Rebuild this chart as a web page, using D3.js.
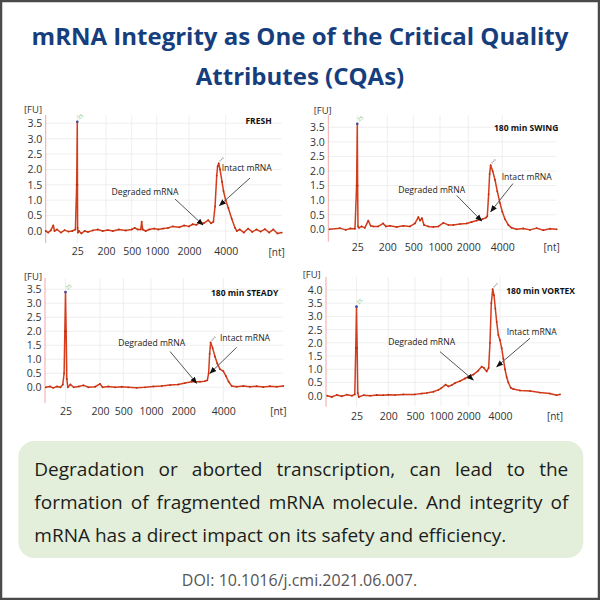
<!DOCTYPE html>
<html><head><meta charset="utf-8">
<script src="https://cdn.jsdelivr.net/npm/d3@7"></script>
<style>html,body{margin:0;padding:0;background:#fff}svg{display:block}</style>
</head><body><svg id="c" width="600" height="600"></svg>
<script>
// ---------- data ----------
const titleLines = ["mRNA Integrity as One of the Critical Quality", "Attributes (CQAs)"];
const panelTitles = ["FRESH", "180 min SWING", "180 min STEADY", "180 min VORTEX"];
const xTickValues = [25, 200, 500, 1000, 2000, 4000];
const xDomain = [0, 25, 200, 500, 1000, 2000, 4000, 8000];
const yTicksA = [0, 0.5, 1, 1.5, 2, 2.5, 3, 3.5];
const yTicksB = [0, 0.5, 1, 1.5, 2, 2.5, 3, 3.5, 4];
const annotationLabels = ["Degraded mRNA", "Intact mRNA"];
const bodyLines = ["Degradation or aborted transcription, can lead to the",
  "formation of fragmented mRNA molecule. And integrity of",
  "mRNA has a direct impact on its safety and efficiency."];
const doiText = "DOI: 10.1016/j.cmi.2021.06.007.";

// [nt, FU]
const fresh = [[0,0],[2,-0.05],[4,0.02],[6,0.18],[7,0],[9,0.05],[12,-0.05],[15,0.03],[18,-0.02],[21,0],[23.5,0.05],[24.5,1.5],[25,3.55],[26,1.5],[27,0.1],[29,-0.05],[35,0],[50,-0.08],[70,0],[90,-0.03],[120,0.02],[150,0.05],[180,0],[220,0.03],[280,0],[350,0.05],[430,0.02],[500,0.05],[560,0.1],[620,0.05],[680,0.05],[700,0.3],[720,0.05],[780,0],[850,0.05],[950,0.08],[1050,0.05],[1200,0.08],[1350,0.1],[1500,0.15],[1700,0.12],[1850,0.18],[2000,0.15],[2200,0.22],[2400,0.2],[2600,0.28],[2800,0.25],[3050,0.35],[3200,0.25],[3330,0.3],[3420,0.8],[3510,1.8],[3560,2.1],[3620,2.2],[3690,2.0],[3800,1.6],[3880,1.3],[4000,1.0],[4190,0.75],[4430,0.4],[4670,0.1],[4790,0],[5000,0.05],[5300,-0.05],[5600,0.08],[5900,-0.03],[6200,0.05],[6500,-0.02],[6800,0.06],[7100,-0.05],[7400,0.05],[7700,-0.08],[8000,-0.05]];
const swing = [[1,0],[10,0.04],[15,-0.02],[19,0.03],[23,0.02],[24.4,1.5],[25,3.62],[27,1.5],[29,0.1],[35,0.05],[50,0.1],[69,0.05],[89,0.3],[103,0.12],[118,0.1],[147,0.1],[176,0.2],[192,0.1],[231,0.12],[308,0.08],[385,0.12],[462,0.1],[531,0.2],[594,0.42],[625,0.3],[662,0.38],[700,0.15],[781,0.1],[875,0.08],[969,0.1],[1118,0.22],[1294,0.15],[1470,0.15],[1706,0.18],[1941,0.2],[2196,0.25],[2490,0.3],[2843,0.35],[3039,0.4],[3118,0.45],[3196,1.2],[3255,1.9],[3314,2.2],[3431,2.0],[3569,1.7],[3706,1.3],[3863,0.9],[4000,0.6],[4196,0.35],[4441,0.15],[4686,0.05],[5054,0],[5544,0.03],[6034,-0.02],[6524,0.04],[7014,-0.03],[7504,0.02],[8000,0]];
const steady = [[1,0],[6,0.03],[10,-0.02],[14.6,0.03],[18.8,0],[21.7,0.1],[23.3,0.5],[24.2,2.0],[25,3.4],[28.3,2.0],[31.7,0.3],[36.7,0],[50,0.1],[66.7,0],[91.7,0.03],[116.7,0.07],[141.7,0],[175,0.02],[200,0.12],[234,0],[307,0.03],[393,0],[479,0.02],[590,0],[741,-0.02],[892,0],[1072,0.03],[1330,0.05],[1588,0.08],[1845,0.1],[2083,0.15],[2417,0.2],[2833,0.2],[3083,0.22],[3200,0.25],[3267,0.5],[3317,1.2],[3367,1.6],[3467,1.4],[3583,1.1],[3700,0.85],[3833,0.65],[4000,0.58],[4178,0.4],[4356,0.2],[4556,0.05],[4889,0.02],[5333,0.05],[5778,0.02],[6222,0.04],[6667,0.01],[7111,0.04],[7556,0.02],[8000,0.05]];
const vortex = [[1,0],[4.7,-0.05],[8.9,0.03],[13,-0.02],[17.2,0.04],[21.4,0],[23.6,0.05],[24.4,1.8],[25,3.37],[28.6,1.8],[32.2,0.1],[37.6,-0.05],[64.7,0.02],[100.8,0],[137,0.03],[173,0.02],[200,0.04],[275,0.03],[369,0.05],[500,0.05],[628,0.08],[724,0.1],[853,0.15],[949,0.22],[1000,0.28],[1171,0.42],[1268,0.35],[1390,0.4],[1512,0.48],[1695,0.55],[1878,0.65],[2000,0.72],[2316,0.8],[2632,0.95],[2842,1.1],[2989,1.05],[3158,0.92],[3284,1.05],[3368,2.0],[3453,3.5],[3537,4.03],[3621,3.8],[3705,3.3],[3789,2.8],[3895,2.3],[4000,2.1],[4111,1.8],[4222,1.4],[4333,1.0],[4444,0.7],[4556,0.5],[4711,0.3],[4889,0.25],[5333,0.2],[6000,0.18],[6667,0.12],[7333,0.08],[7778,0.02],[8000,0.05]];

// ---------- layout ----------
const panels = [
  {data: fresh, title: panelTitles[0], yTicks: yTicksA, yMax: 3.5,
   xr: [45.7, 77.3, 106, 131.7, 156.7, 189, 225.7, 281.7], y0: 231, yTop: 123.3, axisTop: 115, axisBot: 243,
   xLabY: 255.5, fu: [33, 112.5], titleXY: [271.7, 124],
   deg: {t: [145, 195], a: [175, 199, 203, 225]}, int: {t: [246.7, 171], a: [250, 178, 219.5, 205.5]}},
  {data: swing, title: panelTitles[1], yTicks: yTicksA, yMax: 3.5,
   xr: [328.3, 357.3, 387.3, 413.3, 440, 468.3, 502.3, 556.7], y0: 229.3, yTop: 127.3, axisTop: 115, axisBot: 241.7,
   xLabY: 251, fu: [322.7, 113.5], titleXY: [558.3, 130.5],
   deg: {t: [431.7, 192.5], a: [456.7, 195.5, 481.7, 221]}, int: {t: [526.7, 179.5], a: [513, 183.5, 490.7, 211.7]}},
  {data: steady, title: panelTitles[2], yTicks: yTicksA, yMax: 3.5,
   xr: [45, 65.5, 100, 123.3, 151, 183.3, 223.3, 283.3], y0: 387.3, yTop: 289.3, axisTop: 278, axisBot: 403,
   xLabY: 415, fu: [33, 279.5], titleXY: [278.3, 296],
   deg: {t: [151.7, 346], a: [170, 351.5, 196.7, 383.3]}, int: {t: [245, 341], a: [236.7, 347.3, 210, 373.3]}},
  {data: vortex, title: panelTitles[3], yTicks: yTicksB, yMax: 4,
   xr: [326, 356.5, 388.3, 415, 441, 468.3, 500, 560], y0: 395.7, yTop: 290, axisTop: 277, axisBot: 406.7,
   xLabY: 420, fu: [311.7, 277.5], titleXY: [575, 293.5],
   deg: {t: [421.7, 345], a: [440, 351.7, 473.3, 380]}, int: {t: [531.7, 334.5], a: [530, 338.3, 496.7, 366.7]}}
];

const svg = d3.select("#c");
const FONT = "'Open Sans', 'Noto Sans', sans-serif";

svg.append("rect").attr("width", 600).attr("height", 600).attr("fill", "#fff");

const defs = svg.append("defs");
defs.append("marker").attr("id", "arr").attr("viewBox", "0 0 10 10").attr("refX", 9).attr("refY", 5)
  .attr("markerWidth", 7).attr("markerHeight", 7).attr("orient", "auto")
  .append("path").attr("d", "M0,1 L10,5 L0,9 z").attr("fill", "#111");

// title
function fitText(sel, width) {
  const w = sel.node().getComputedTextLength();
  const fs = parseFloat(sel.attr("font-size"));
  sel.attr("font-size", fs * width / w);
}
const t1 = svg.append("text").attr("x", 300).attr("y", 44.5).attr("text-anchor", "middle")
  .attr("font-family", FONT).attr("font-weight", 700).attr("font-size", 21).attr("fill", "#163e7d").text(titleLines[0]);
fitText(t1, 537);
const fsTitle = t1.attr("font-size");
svg.append("text").attr("x", 300).attr("y", 84.5).attr("text-anchor", "middle")
  .attr("font-family", FONT).attr("font-weight", 700).attr("font-size", fsTitle).attr("fill", "#163e7d").text(titleLines[1]);

// panels
panels.forEach(p => {
  const g = svg.append("g");
  const x = d3.scaleLinear().domain(xDomain).range(p.xr);
  const y = d3.scaleLinear().domain([0, p.yMax]).range([p.y0, p.yTop]);
  const xL = p.xr[0], xR = p.xr[p.xr.length - 1];

  // grid
  g.append("g").selectAll("line").data(p.yTicks).join("line")
    .attr("x1", xL).attr("x2", xR).attr("y1", d => y(d)).attr("y2", d => y(d))
    .attr("stroke", "#ebebeb").attr("stroke-width", 0.8);
  g.append("g").selectAll("line").data(xTickValues).join("line")
    .attr("x1", d => x(d)).attr("x2", d => x(d)).attr("y1", p.axisTop).attr("y2", p.axisBot)
    .attr("stroke", "#ebebeb").attr("stroke-width", 0.8);

  // y axis
  const ya = d3.axisLeft(y).tickValues(p.yTicks).tickFormat(d3.format(".1f")).tickSize(0).tickPadding(3.5);
  const yg = g.append("g").attr("transform", `translate(${xL},0)`).call(ya);
  yg.select(".domain").remove();
  yg.selectAll("text").attr("font-family", FONT).attr("font-size", 10.5).attr("fill", "#333");
  g.append("line").attr("x1", xL).attr("x2", xL).attr("y1", p.axisTop).attr("y2", p.axisBot)
    .attr("stroke", "#f2a7a7").attr("stroke-width", 1);

  // x axis labels
  const xa = d3.axisBottom(x).tickValues(xTickValues).tickFormat(d => d).tickSize(0).tickPadding(0);
  const xg = g.append("g").attr("transform", `translate(0,${p.xLabY - 7.5})`).call(xa);
  xg.select(".domain").remove();
  xg.selectAll("text").attr("font-family", FONT).attr("font-size", 10.5).attr("fill", "#333").attr("dy", "0.71em");

  g.append("text").attr("x", xR - 5).attr("y", p.xLabY).attr("text-anchor", "middle")
    .attr("font-family", FONT).attr("font-size", 10).attr("fill", "#333").text("[nt]");
  g.append("text").attr("x", p.fu[0]).attr("y", p.fu[1]).attr("text-anchor", "middle")
    .attr("font-family", FONT).attr("font-size", 9.5).attr("fill", "#333").text("[FU]");

  // panel title
  g.append("text").attr("x", p.titleXY[0]).attr("y", p.titleXY[1]).attr("text-anchor", "end")
    .attr("font-family", FONT).attr("font-weight", 700).attr("font-size", 8.5).attr("fill", "#111").text(p.title);

  // curve
  const line = d3.line().x(d => x(d[0])).y(d => y(d[1]));
  g.append("path").datum(p.data).attr("d", line).attr("fill", "none")
    .attr("stroke", "#d43c1c").attr("stroke-width", 1.5).attr("stroke-linejoin", "round");
  g.append("g").selectAll("circle").data(p.data).join("circle")
    .attr("cx", d => x(d[0])).attr("cy", d => y(d[1])).attr("r", 0.9).attr("fill", "#b8300f");

  // marker peak label
  const mk = p.data.find(d => d[0] === 25);
  g.append("circle").attr("cx", x(25)).attr("cy", y(mk[1])).attr("r", 1.3).attr("fill", "#3a4fa8");
  g.append("text").attr("transform", `translate(${x(25) + 2},${y(mk[1]) - 2}) rotate(-40)`)
    .attr("font-family", FONT).attr("font-size", 5).attr("fill", "#6dbb6a").text("25");
  const top = p.data.reduce((a, b) => (b[0] > 1000 && b[1] > a[1] ? b : a), [0, -1]);
  g.append("line").attr("x1", x(top[0]) + 1).attr("y1", y(top[1]) - 2).attr("x2", x(top[0]) + 5).attr("y2", y(top[1]) - 6)
    .attr("stroke", "#aaa").attr("stroke-width", 1.6).attr("stroke-dasharray", "1.2,0.8");

  // annotations
  [[p.deg, annotationLabels[0]], [p.int, annotationLabels[1]]].forEach(([a, lbl]) => {
    g.append("text").attr("x", a.t[0]).attr("y", a.t[1]).attr("text-anchor", "middle")
      .attr("font-family", FONT).attr("font-size", 8.6).attr("fill", "#222").text(lbl);
    g.append("line").attr("x1", a.a[0]).attr("y1", a.a[1]).attr("x2", a.a[2]).attr("y2", a.a[3])
      .attr("stroke", "#555").attr("stroke-width", 1).attr("marker-end", "url(#arr)");
  });
});

// body box
svg.append("rect").attr("x", 18.3).attr("y", 441).attr("width", 565).attr("height", 117).attr("rx", 16)
  .attr("fill", "#e3efda");
const bodyBase = [475.7, 509.3, 541.7];
const left = 34.3, right = 568.3;
const probe = svg.append("text").attr("font-family", FONT).attr("font-size", 19).text(bodyLines[2]);
const fsBody = 19 * 472.4 / probe.node().getComputedTextLength();
probe.remove();
bodyLines.forEach((ln, i) => {
  const t = svg.append("text").attr("y", bodyBase[i]).attr("font-family", FONT).attr("font-size", fsBody).attr("fill", "#1c1c1c");
  if (i < 2) {
    const words = ln.split(" ");
    const widths = words.map(w => {
      const s = svg.append("text").attr("font-family", FONT).attr("font-size", fsBody).text(w);
      const v = s.node().getComputedTextLength(); s.remove(); return v;
    });
    const gap = (right - left - d3.sum(widths)) / (words.length - 1);
    let cx = left;
    words.forEach((w, j) => {
      t.append("tspan").attr("x", cx).text(w);
      cx += widths[j] + gap;
    });
  } else {
    t.attr("x", left).text(ln);
  }
});
const doi = svg.append("text").attr("x", 299.5).attr("y", 586).attr("text-anchor", "middle")
  .attr("font-family", FONT).attr("font-size", 16).attr("fill", "#555").text(doiText);
fitText(doi, 235.6);

// frame
svg.append("rect").attr("x", 1).attr("y", 1).attr("width", 598).attr("height", 598)
  .attr("fill", "none").attr("stroke", "#4a4a4a").attr("stroke-width", 2.5);
</script></body></html>
